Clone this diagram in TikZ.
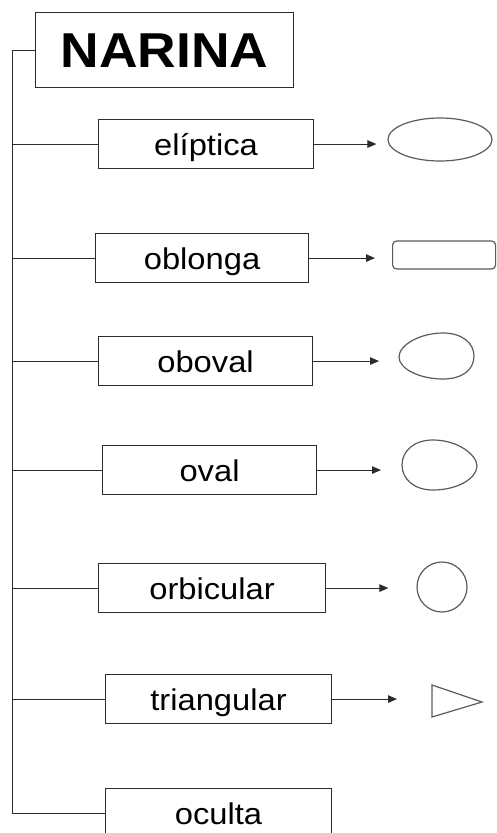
\documentclass[tikz,border=0pt]{standalone}
\usepackage{fontspec}
\setmainfont{Liberation Sans}[FakeStretch=1.09]
\usetikzlibrary{arrows.meta,shapes.geometric}
\definecolor{cLine}{HTML}{2B2B2B}
\definecolor{cShape}{HTML}{5A5A5A}

\begin{document}
\begin{tikzpicture}[
    x=1pt, y=-1pt,
    font=\fontsize{30}{36}\selectfont,
    box/.style={draw=cLine, line width=1.1pt, minimum height=49pt, inner sep=0pt,
        text height=22pt, text depth=0pt, anchor=north west},
    ln/.style={cLine, line width=1pt},
    arr/.style={-{Triangle[length=9pt,width=7.5pt]}, line width=1pt, cLine},
    shp/.style={draw=cShape, line width=1.2pt, inner sep=0pt}
]
\useasboundingbox (0,0) rectangle (496,833);

\node[box, minimum width=258pt, minimum height=75pt, text height=35pt,
    font=\fontsize{49}{56}\selectfont\bfseries] (narina) at (35,12) {NARINA};
\node[box, minimum width=215pt] (elip) at (98,119) {elíptica};
\node[box, minimum width=213pt] (oblo) at (95,233) {oblonga};
\node[box, minimum width=214pt] (obov) at (98,336) {oboval};
\node[box, minimum width=214pt] (oval) at (102,445) {oval};
\node[box, minimum width=227pt] (orbi) at (98,563) {orbicular};
\node[box, minimum width=226pt] (tria) at (105,674) {triangular};
\node[box, minimum width=226pt] (ocul) at (105,788) {oculta};

\node[shp, ellipse, minimum width=104pt, minimum height=43pt] (elipS) at (440,139.5) {};
\node[shp, rounded corners=4pt, minimum width=103pt, minimum height=28pt, anchor=west] (obloS) at (392,255) {};
\node[shp, circle, minimum size=50pt] (orbiS) at (442,587) {};
\coordinate (obovS) at (399,357);
\coordinate (ovalS) at (402,465);
\coordinate (triaS) at (432,701);

\draw[shp] (obovS) .. controls (399,345) and (420,333) .. (443,333)
    .. controls (462,333) and (474,343) .. (474,356)
    .. controls (474,370) and (462,379) .. (443,379)
    .. controls (420,379) and (399,369) .. (obovS);
\draw[shp] (ovalS) .. controls (402,451) and (414,440) .. (433,440)
    .. controls (458,440) and (477,455) .. (477,466)
    .. controls (477,478) and (458,490) .. (433,490)
    .. controls (414,490) and (402,479) .. (ovalS);
\draw[shp] (triaS) -- ++(0,-16) -- ++(50,17) -- ++(-50,15) -- cycle;

\coordinate (spine) at (12,0);
\draw[ln] (narina.west) -- (narina.west -| spine) |- (ocul.west);
\foreach \b in {elip,oblo,obov,oval,orbi,tria}
    \draw[ln] (\b.west -| spine) -- (\b.west);

\draw[arr, shorten >=11pt] (elip.east) -- (elip.east -| elipS.west);
\draw[arr, shorten >=17pt] (oblo.east) -- (oblo.east -| obloS.west);
\draw[arr, shorten >=20pt] (obov.east) -- (obov.east -| obovS);
\draw[arr, shorten >=21pt] (oval.east) -- (oval.east -| ovalS);
\draw[arr, shorten >=28pt] (orbi.east) -- (orbi.east -| orbiS.west);
\draw[arr, shorten >=35pt] (tria.east) -- (tria.east -| triaS);
\end{tikzpicture}
\end{document}
